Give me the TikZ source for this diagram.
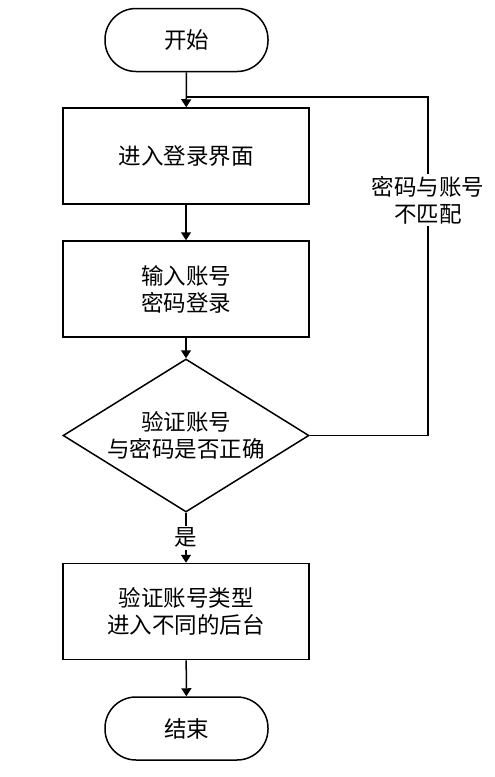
\documentclass[tikz,border=0pt]{standalone}
\usepackage{fontspec}
\setmainfont{Noto Sans CJK SC}
\usetikzlibrary{arrows.meta,shapes.geometric}
\begin{document}
\begin{tikzpicture}[x=1pt,y=-1pt,
  every node/.style={font=\fontsize{22.5}{27}\selectfont, align=center, inner sep=0pt},
  term/.style={draw, line width=1.5pt, rounded corners=31pt, minimum width=163pt, minimum height=63pt},
  proc/.style={draw, line width=1.5pt, minimum width=246pt, minimum height=96pt},
  dec/.style={draw, line width=1.5pt, diamond, minimum width=246pt, minimum height=153pt, aspect=1.6},
  conn/.style={line width=1.5pt},
  arr/.style={conn, -{Triangle[width=10pt,length=8pt]}},
  lbl/.style={fill=white, inner sep=2pt}]
\useasboundingbox (0,0) rectangle (495,777);
\node[term] (start) at (186.5,40) {开始};
\node[proc] (b1) at (186,156) {进入登录界面};
\node[proc] (b2) at (186,289) {输入账号\\密码登录};
\node[dec, inner sep=0pt] (d) at (186,435.5) {验证账号\\与密码是否正确};
\node[proc] (b3) at (186,611.5) {验证账号类型\\进入不同的后台};
\node[term] (end) at (186.5,728.5) {结束};
\coordinate (j) at (186,97);
\coordinate (r1) at (428,435.5);
\coordinate (r2) at (428,97);
\draw[arr] (start) -- (b1);
\draw[arr] (b1) -- (b2);
\draw[arr] (b2) -- (d);
\draw[arr] (d) -- (b3) node[lbl, pos=0.5] (yes) {是};
\draw[arr] (b3) -- (end);
\draw[conn] (d.east) -- (r1) -- (r2) node[lbl, pos=0.695] (nomatch) {密码与账号\\不匹配} -- (j);
\end{tikzpicture}
\end{document}
